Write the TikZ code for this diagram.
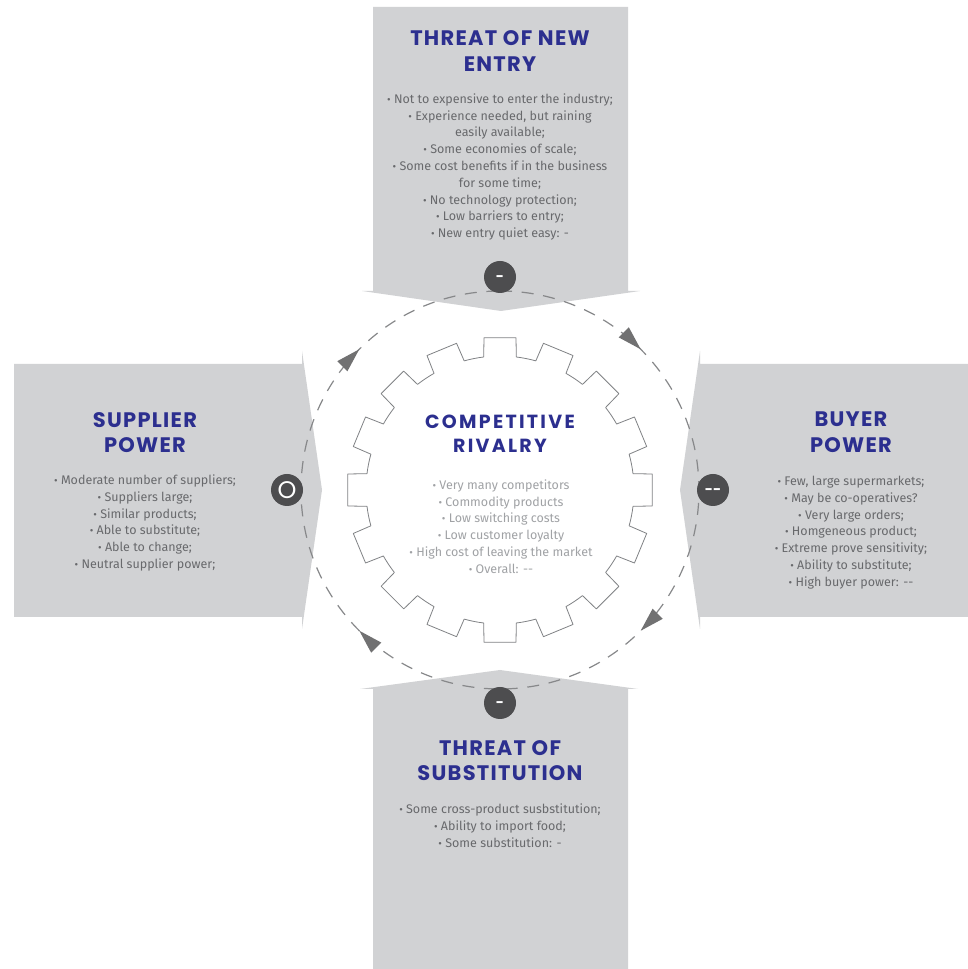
\documentclass[tikz,border=0pt]{standalone}
\usepackage{fontspec}
\setmainfont{Fira Sans}
\newfontfamily\headfont[LetterSpace=6]{Poppins}
\newfontfamily\hubfont[LetterSpace=12]{Poppins}
\newfontfamily\markfont{Poppins}
\usetikzlibrary{arrows.meta, decorations.markings}

\definecolor{panelgrey}{RGB}{209,210,212}
\definecolor{navy}{RGB}{44,47,143}
\definecolor{bodygrey}{RGB}{104,105,108}
\definecolor{hubgrey}{RGB}{160,162,165}
\definecolor{badgegrey}{RGB}{77,77,79}
\definecolor{orbitgrey}{RGB}{135,136,138}
\definecolor{cogline}{RGB}{128,130,133}

% small bullet in front of every fact
\newcommand{\bul}{\raisebox{0ex}{\fontsize{11}{11}\selectfont •}\ }
% rating sign, centred in its badge
\newcommand{\sign}[1]{\raisebox{-5pt}[0pt][0pt]{#1}}

\tikzset{%
	panel/.style={
		fill=panelgrey,
		draw=none
	},
	badge/.style={
		circle,
		fill=badgegrey,
		minimum size=32pt,
		inner sep=0pt,
		text=white,
		font=\markfont\bfseries\fontsize{14}{14}\selectfont
	},
	title/.style={
		align=center,
		inner sep=0pt,
		text=navy,
		font=\headfont\bfseries\fontsize{21}{25.5}\selectfont
	},
	facts/.style={
		align=center,
		inner sep=0pt,
		text=bodygrey,
		font=\fontsize{12.5}{16.8}\selectfont
	},
}

\begin{document}
\begin{tikzpicture}[
				x=1pt, y=1pt,
				cog/.style={draw=cogline, line width=0.8pt, fill=white, line join=round},
				orbit/.style={
					draw=orbitgrey,
					line width=1.2pt,
					dash pattern=on 12pt off 9.7pt,
					postaction={decorate},
					decoration={markings,
						mark=at position 0.125 with {\arrow[color=badgegrey!80]{Triangle[length=24pt,width=14pt]}},
						mark=at position 0.375 with {\arrow[color=badgegrey!80]{Triangle[length=24pt,width=14pt]}},
						mark=at position 0.625 with {\arrow[color=badgegrey!80]{Triangle[length=24pt,width=14pt]}},
						mark=at position 0.875 with {\arrow[color=badgegrey!80]{Triangle[length=24pt,width=14pt]}}}
				}
				]
				\useasboundingbox (0,0) rectangle (968,969);
				\fill[white] (0,0) rectangle (968,969);
				
				% the four forces, each pointing at the middle
				\fill[panel] (373,962) -- (628,962) -- (628,678) -- (640,678) -- (501,658)
					-- (362,678) -- (373,678) -- cycle;
				\fill[panel] (14,605) -- (302,605) -- (302,618) -- (322,479) -- (302,340)
					-- (302,352) -- (14,352) -- cycle;
				\fill[panel] (968,605) -- (700,605) -- (700,618) -- (680,479) -- (700,340)
					-- (700,352) -- (968,352) -- cycle;
				\fill[panel] (373,0) -- (373,280) -- (360,280) -- (500,299) -- (638,280)
					-- (628,280) -- (628,0) -- cycle;
				
				% dashed ring running clockwise
				\draw[orbit] (500,678) arc[start angle=90, end angle=-270, radius=199];
				
				% cog wheel, 16 teeth
				\begin{scope}[shift={(500,479)}]
					\draw[cog] (-7:134)
					\foreach \a in {0,22.5,...,337.5}{
						-- (\a-6:153) -- (\a+6:153) -- (\a+7:134)
						arc[start angle=\a+7, end angle=\a+15.5, radius=134]
					} -- cycle;
				\end{scope}
				
				% ratings
				\node[badge] (newmark) at (500,692) {\sign{-}};
				\node[badge] (supmark) at (287,479) {\fontsize{24}{24}\mdseries O};
				\node[badge] (buymark) at (713,479) {\sign{-{}-}};
				\node[badge] (submark) at (500,266) {\sign{-}};
				
				% threat of new entry
				\node[title] (newttl) at (500,918) {THREAT OF NEW\\ENTRY};
				\node[facts] (newtxt) at (500,802) {\bul Not to expensive to enter the industry;\\
					\bul Experience needed, but raining\\easily available;\\
					\bul Some economies of scale;\\
					\bul Some cost benefits if in the business\\for some time;\\
					\bul No technology protection;\\
					\bul Low barriers to entry;\\
					\bul New entry quiet easy: -};
				
				% supplier power
				\node[title] (supttl) at (145,536.5) {SUPPLIER\\POWER};
				\node[facts] (suptxt) at (145,446) {\bul Moderate number of suppliers;\\
					\bul Suppliers large;\\
					\bul Similar products;\\
					\bul Able to substitute;\\
					\bul Able to change;\\
					\bul Neutral supplier power;};
				
				% buyer power
				\node[title] (buyttl) at (851,537) {BUYER\\POWER};
				\node[facts] (buytxt) at (851,436.5) {\bul Few, large supermarkets;\\
					\bul May be co-operatives?\\
					\bul Very large orders;\\
					\bul Homgeneous product;\\
					\bul Extreme prove sensitivity;\\
					\bul Ability to substitute;\\
					\bul High buyer power: -{}-};
				
				% threat of substitution
				\node[title] (subttl) at (500,208.5) {THREAT OF\\SUBSTITUTION};
				\node[facts] (subtxt) at (500,143) {\bul Some cross-product susbstitution;\\
					\bul Ability to import food;\\
					\bul Some substitution: -};
				
				% competitive rivalry inside the cog
				\node[title, font=\hubfont\bfseries\fontsize{19}{24}\selectfont] (hubttl) at (500,535) {COMPETITIVE\\RIVALRY};
				\node[facts, text=hubgrey] (hubtxt) at (501,442.5) {\bul Very many competitors\\
					\bul Commodity products\\
					\bul Low switching costs\\
					\bul Low customer loyalty\\
					\bul High cost of leaving the market\\
					\bul Overall: -{}-};
				
			\end{tikzpicture}
\end{document}
